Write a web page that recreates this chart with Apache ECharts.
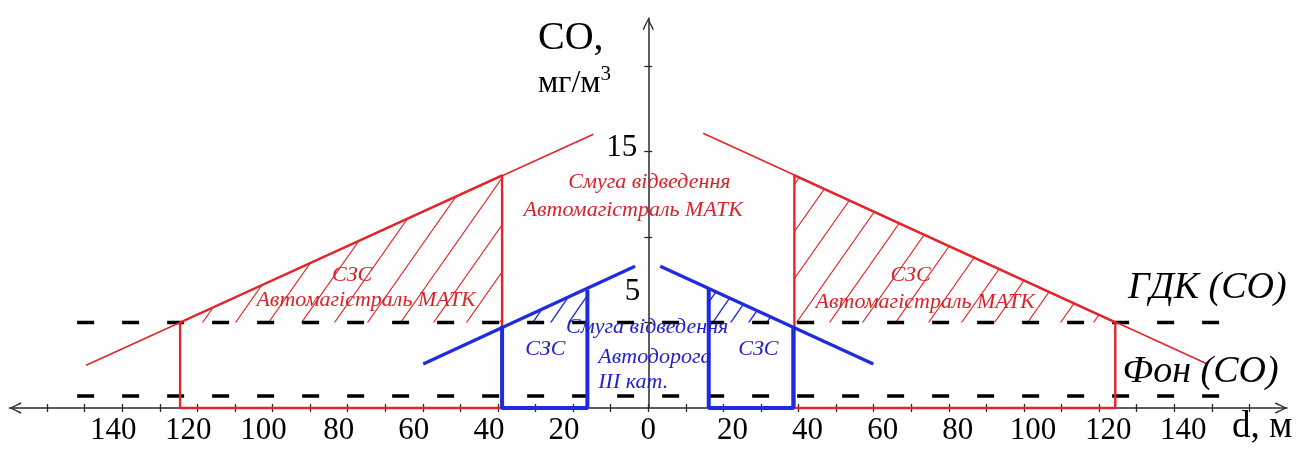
<!DOCTYPE html>
<html><head><meta charset="utf-8">
<script src="https://cdn.jsdelivr.net/npm/echarts@6/dist/echarts.min.js"></script>
<style>html,body{margin:0;padding:0;background:#fff}#c{width:1309px;height:451px}</style>
</head><body><div id="c"></div>
<script>
// ---- data (distance d, m ; CO, mg/m3) ----
const xTicks = [-160,-150,-140,-130,-120,-110,-100,-90,-80,-70,-60,-50,-40,-30,-20,-10,0,10,20,30,40,50,60,70,80,90,100,110,120,130,140,150,160];
const xLabels = [-140,-120,-100,-80,-60,-40,-20,0,20,40,60,80,100,120,140];
const yTicks = [5,10,15,20];
// y tick labels as drawn in the figure: [text, x, y]
const yLabelNotes = [
  ['15', -2.9, 15.19, 'right'],
  ['5', -2.1, 6.78, 'right']
];

const gdkLine = [[-152,5.0],[152,5.0]];
const fonLine = [[-152,0.7],[152,0.7]];

const redLeft  = [[-149.6,2.5],[-14.6,16.0]];
const redRight = [[14.6,16.06],[148.8,2.57]];
const redZoneLeft  = [[-124.6,0],[-124.6,5.0],[-38.9,13.6],[-38.9,0],[-124.6,0]];
const redZoneRight = [[124.3,0],[124.3,5.0],[38.9,13.6],[38.9,0],[124.3,0]];
const redHatch = [
  [[-124.6,5.0],[-38.9,13.6],[-38.9,5.0]],
  [[38.9,13.6],[124.3,5.0],[38.9,5.0]]
];

const blueLeft  = [[-59.9,2.57],[-3.5,8.29]];
const blueRight = [[3.2,8.29],[59.9,2.57]];
const blueZoneLeft  = [[-38.9,4.8],[-38.9,0],[-16.2,0],[-16.2,6.9]];
const blueZoneRight = [[16.1,7.0],[16.1,0],[38.6,0],[38.6,4.8]];
const blueHatch = [
  [[-35.9,5.0],[-16.2,6.9],[-16.2,5.0]],
  [[16.1,7.0],[35.9,5.0],[16.1,5.0]]
];

const redNotes = [
  ['Смуга відведення', 0.3, 13.2, 'center'],
  ['Автомагістраль МАТК', -4, 11.57, 'center'],
  ['СЗС', -78.8, 7.77, 'center'],
  ['Автомагістраль МАТК', -75.1, 6.31, 'center'],
  ['СЗС', 69.8, 7.77, 'center'],
  ['Автомагістраль МАТК', 73.7, 6.19, 'center']
];
const blueNotes = [
  ['Смуга відведення', -0.3, 4.73, 'center'],
  ['Автодорога', -13.3, 2.98, 'left'],
  ['ІІІ кат.', -13.3, 1.52, 'left'],
  ['СЗС', -27.4, 3.45, 'center'],
  ['СЗС', 29.3, 3.45, 'center']
];
const blackNotes = [
  ['ГДК (СО)', 148.8, 7.0, 'center'],
  ['Фон (СО)', 147, 2.1, 'center']
];

// ---- styles ----
const RED = '#e3262b', BLUE = '#1f2be0', RED_T = '#d9232a', BLUE_T = '#2222d2', AX = '#2a2a2a';
const SERIF = "'Liberation Serif','Times New Roman',serif";
const chevron = 'path://M0,12 L6,0 L12,12 L10.6,12.7 L6,2.6 L1.4,12.7 Z';

function hatch(color, w, h, lw) {
  const c = document.createElement('canvas');
  c.width = w; c.height = h;
  const g = c.getContext('2d');
  g.strokeStyle = color; g.lineWidth = lw;
  g.beginPath();
  for (const s of [-w, 0, w]) { g.moveTo(-w + s, 2*h); g.lineTo(2*w + s, -h); }
  g.stroke();
  return c;
}
const redPat = hatch(RED, 33, 47, 1.1);
const bluePat = hatch(BLUE, 18, 26, 1.3);

function lineSeries(data, color, width, extra) {
  return Object.assign({
    type: 'line', data: data, symbol: 'none', clip: false, silent: true,
    lineStyle: { color: color, width: width }, z: 3, animation: false
  }, extra || {});
}
function hatchSeries(polys, pat) {
  return {
    type: 'custom', silent: true, clip: false, animation: false, z: 1,
    data: [[0, 0]],
    renderItem: function (p, api) {
      return { type: 'group', children: polys.map(function (poly) {
        return { type: 'polygon', shape: { points: poly.map(function (pt) { return api.coord(pt); }) },
                 style: { fill: { image: pat, repeat: 'repeat' }, stroke: null } };
      }) };
    }
  };
}
function noteSeries(notes, color, size, italic) {
  return {
    type: 'scatter', symbolSize: 0.1, silent: true, clip: false, animation: false, z: 6,
    itemStyle: { color: 'rgba(0,0,0,0)', opacity: 1 },
    data: notes.map(function (n) {
      return { value: [n[1], n[2]], label: { formatter: n[0], align: n[3] } };
    }),
    label: { show: true, position: 'inside', color: color, fontSize: size, opacity: 1,
             textBorderWidth: 0,
             fontStyle: italic ? 'italic' : 'normal', fontFamily: SERIF, verticalAlign: 'middle' }
  };
}

const xlabRich = {
  l: { fontSize: 31, fontFamily: SERIF, color: '#000', padding: [0, 18, 0, 0] },
  r: { fontSize: 31, fontFamily: SERIF, color: '#000', padding: [0, 0, 0, 18] }
};

const chart = echarts.init(document.getElementById('c'));
chart.setOption({
  animation: false,
  backgroundColor: '#fff',
  grid: { left: 9.5, right: 22, top: 18, bottom: 43, outerBoundsMode: 'none', containLabel: false },
  xAxis: [{
    type: 'value', min: -170, max: 170,
    splitLine: { show: false },
    axisLine: { show: true, onZero: true, symbol: [chevron, chevron], symbolSize: [13, 12], symbolOffset: [6, -6],
                lineStyle: { color: AX, width: 1.5 } },
    axisTick: { show: true, customValues: xTicks, length: 4, lineStyle: { color: AX, width: 1.3 } },
    axisLabel: { show: true, customValues: xLabels, margin: 7, color: '#000', fontSize: 31, fontFamily: SERIF,
      rich: xlabRich,
      formatter: function (v) { return v < 0 ? '{l|' + (-v) + '}' : (v > 0 ? '{r|' + v + '}' : '0'); } }
  }, {
    type: 'value', min: -170, max: 170, position: 'bottom',
    splitLine: { show: false },
    axisLine: { show: false, onZero: false },
    axisTick: { show: true, inside: true, customValues: xTicks, length: 4, lineStyle: { color: AX, width: 1.3 } },
    axisLabel: { show: false }
  }],
  yAxis: [{
    type: 'value', min: 0, max: 22.8,
    splitLine: { show: false },
    axisLine: { show: true, onZero: true, symbol: ['none', chevron], symbolSize: [13, 12], symbolOffset: [0, -6],
                lineStyle: { color: AX, width: 1.5 } },
    axisTick: { show: true, customValues: yTicks, length: 4, lineStyle: { color: AX, width: 1.3 } },
    axisLabel: { show: false }
  }, {
    type: 'value', min: 0, max: 22.8, position: 'left',
    splitLine: { show: false },
    axisLine: { show: false, onZero: true },
    axisTick: { show: true, inside: true, customValues: yTicks, length: 4, lineStyle: { color: AX, width: 1.3 } },
    axisLabel: { show: false }
  }],
  graphic: [
    { type: 'text', left: 538, top: 18, style: { text: 'СО,', fontSize: 40, fontFamily: SERIF, fill: '#000' } },
    { type: 'text', left: 538, top: 64, style: { text: 'мг/м{s|3}', fontSize: 32, fontFamily: SERIF, fill: '#000',
        rich: { s: { fontSize: 21, fontFamily: SERIF, fill: '#000', padding: [0, 0, 18, 0], verticalAlign: 'bottom' } } } },
    { type: 'text', left: 1232, top: 409, style: { text: 'd, м', fontSize: 37, fontFamily: SERIF, fill: '#000' } }
  ],
  series: [
    hatchSeries(redHatch, redPat),
    hatchSeries(blueHatch, bluePat),
    lineSeries(gdkLine, '#000', 3.5, { lineStyle: { color: '#000', width: 3.5, type: [17, 28] }, z: 2 }),
    lineSeries(fonLine, '#000', 3.5, { lineStyle: { color: '#000', width: 3.5, type: [17, 28] }, z: 2 }),
    lineSeries(redLeft, RED, 1.6),
    lineSeries(redRight, RED, 1.6),
    lineSeries(redZoneLeft, RED, 2.4),
    lineSeries(redZoneRight, RED, 2.4),
    lineSeries(blueLeft, BLUE, 3.3, { z: 4 }),
    lineSeries(blueRight, BLUE, 3.3, { z: 4 }),
    lineSeries(blueZoneLeft, BLUE, 4, { z: 4 }),
    lineSeries(blueZoneRight, BLUE, 4, { z: 4 }),
    noteSeries(yLabelNotes, '#000', 31, false),
    noteSeries(redNotes, RED_T, 22, true),
    noteSeries(blueNotes, BLUE_T, 22, true),
    noteSeries(blackNotes, '#000', 38, true)
  ]
});
</script></body></html>
